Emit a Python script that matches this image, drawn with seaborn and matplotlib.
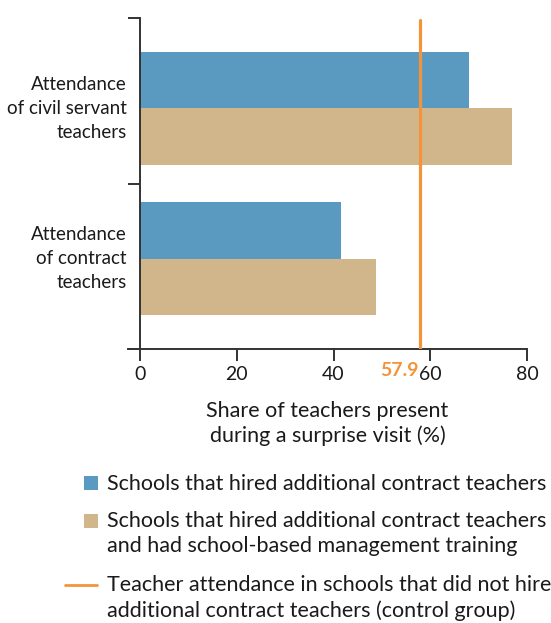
import matplotlib
matplotlib.use("Agg")
import matplotlib.pyplot as plt
import seaborn as sns
import pandas as pd
from matplotlib.patches import Rectangle
from matplotlib.lines import Line2D

# ---- data ----
categories = ["Attendance\nof civil servant\nteachers", "Attendance\nof contract\nteachers"]
series_names = ["Schools that hired additional contract teachers",
                "Schools that hired additional contract teachers\nand had school-based management training"]
hired_contract = [68.1, 41.5]
hired_contract_sbm = [76.8, 48.7]
control_value = 57.9
control_label = "Teacher attendance in schools that did not hire\nadditional contract teachers (control group)"
x_ticks = [0, 20, 40, 60, 80]
x_label = "Share of teachers present\nduring a surprise visit (%)"

BLUE = "#5A9AC1"
TAN = "#D1B68B"
ORANGE = "#F4943A"
TXT = "#1a1a1a"
AX = "#333333"

sns.set_theme(style="white")
plt.rcParams["font.family"] = ["Lato", "DejaVu Sans"]
plt.rcParams["text.color"] = TXT

df = pd.DataFrame({
    "category": categories * 2,
    "value": hired_contract + hired_contract_sbm,
    "series": [series_names[0]] * 2 + [series_names[1]] * 2,
})

W, H = 551, 623
fig = plt.figure(figsize=(W / 100, H / 100), dpi=100)
ax = fig.add_axes([128 / W, 1 - 349 / H, (527 - 128) / W, (349 - 18) / H])

sns.barplot(data=df, y="category", x="value", hue="series", orient="h",
            palette=[BLUE, TAN], width=0.75, gap=0, saturation=1,
            legend=False, linewidth=0, edgecolor="none", ax=ax)

ax.set_xlim(-2.5, 80)
ylo, yhi = -0.603, 1.603
ax.set_ylim(yhi, ylo)

ax.axvline(control_value, ymin=0, ymax=(349 - 20) / (349 - 18), color=ORANGE, lw=2.3, zorder=3)

for s in ["top", "right"]:
    ax.spines[s].set_visible(False)
ax.spines["left"].set_position(("data", 0))
for s in ["left", "bottom"]:
    ax.spines[s].set_color(AX)
    ax.spines[s].set_linewidth(1.4)

ax.set_xticks(x_ticks)
ax.tick_params(axis="x", direction="out", length=8.6, width=1.4, color=AX,
               labelsize=14, labelcolor=TXT, pad=3.5, bottom=True)
ax.set_yticks([0, 1])
ax.set_yticklabels(categories, fontsize=13.5, linespacing=1.48, color=TXT, va="center")
ax.tick_params(axis="y", which="major", length=0, pad=9.5, left=True)
ax.set_yticks([ylo, 0.5, yhi], minor=True)
ax.tick_params(axis="y", which="minor", direction="out", length=8.6, width=1.4, color=AX, left=True)

ax.set_ylabel("")
ax.set_xlabel(x_label, fontsize=15.5, linespacing=1.25, color=TXT, labelpad=13)

# orange control label under the axis
ax.text(control_value - 0.3, -0.038, f"{control_value:.1f}", transform=ax.get_xaxis_transform(),
        ha="right", va="top", color=ORANGE, fontsize=14, fontweight="bold")

# ---- manual legend ----
def fx(px):
    return px / W

def fy(py):
    return 1 - py / H

legend_fs = 15.5
# entry 1
fig.add_artist(Rectangle((fx(84), fy(490)), 14 / W, 14 / H, transform=fig.transFigure,
                         facecolor=BLUE, edgecolor="none"))
fig.text(fx(107), fy(484), series_names[0], ha="left", va="center", fontsize=legend_fs)
# entry 2
fig.add_artist(Rectangle((fx(84), fy(528)), 14 / W, 14 / H, transform=fig.transFigure,
                         facecolor=TAN, edgecolor="none"))
fig.text(fx(107), fy(511), series_names[1], ha="left", va="top", fontsize=legend_fs, linespacing=1.33)
# entry 3
fig.add_artist(Line2D([fx(65), fx(97)], [fy(585), fy(585)], transform=fig.transFigure,
                      color=ORANGE, lw=2))
fig.text(fx(107), fy(575), control_label, ha="left", va="top", fontsize=legend_fs, linespacing=1.33)

fig.savefig("out.png", dpi=100)
